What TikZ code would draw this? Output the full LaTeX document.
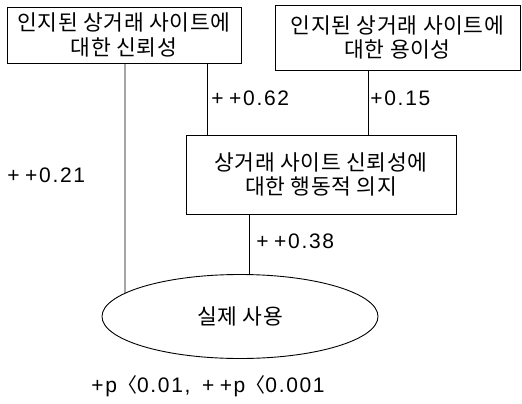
\documentclass[tikz,border=0pt]{standalone}
\usepackage{fontspec}
\setmainfont{Liberation Sans}
\newfontfamily\kr{Noto Sans CJK KR}[LetterSpace=3]
\newfontfamily\krb{Noto Sans CJK KR}
\newfontfamily\lab{Liberation Sans}[LetterSpace=8]
\usetikzlibrary{shapes.geometric,intersections}
\begin{document}
\begin{tikzpicture}[x=1pt,y=-1pt,
  every path/.style={line width=0.9pt},
  box/.style={draw,line width=0.9pt,rectangle,inner sep=0pt,align=center,
     font=\kr\fontsize{21.5}{24.5}\selectfont},
  oval/.style={draw,line width=0.9pt,ellipse,inner sep=0pt,
     font=\kr\fontsize{21.5}{24.5}\selectfont},
  coef/.style={anchor=base west,inner sep=0pt,font=\lab\fontsize{21}{24}\selectfont}]
\useasboundingbox (0,0) rectangle (522,404);
\node[box,minimum width=234pt,minimum height=56pt] (b1) at (124,35)
  {인지된 상거래 사이트에\\대한 신뢰성};
\node[box,minimum width=245pt,minimum height=65pt] (b2) at (397.5,37.5)
  {인지된 상거래 사이트에\\대한 용이성};
\node[box,minimum width=270pt,minimum height=79pt] (b3) at (321,174.5)
  {상거래 사이트 신뢰성에\\대한 행동적 의지};
\node[oval,minimum width=276pt,minimum height=84pt,name path=elp] (el) at (240,316.5)
  {실제 사용};
% connectors
\path[name path=vl] (b1.south -| 125,0) -- (125,400);
\path[name intersections={of=vl and elp}] coordinate (j1) at (intersection-1);
\draw (b1.south -| 125,0) -- (j1);
\draw (b1.south -| 207,0) -- (b3.north -| 207,0);
\draw (b2.south -| 368,0) -- (b3.north -| 368,0);
\draw (b3.south -| 249,0) -- (el.north -| 249,0);
% labels
\node[coef] (l62) at (211,105) {+\hspace{-2pt} +0.62};
\node[coef] (l15) at (370,105) {+0.15};
\node[coef] (l21) at (7,182) {+\hspace{-2pt} +0.21};
\node[coef] (l38) at (256,248) {+\hspace{-2pt} +0.38};
\node[coef] (fn) at (91,392) {+p{\krb\fontsize{20}{24}\selectfont 〈}0.01,\hspace{4pt} +\hspace{-2pt} +p{\krb\fontsize{20}{24}\selectfont 〈}0.001};
\end{tikzpicture}
\end{document}
